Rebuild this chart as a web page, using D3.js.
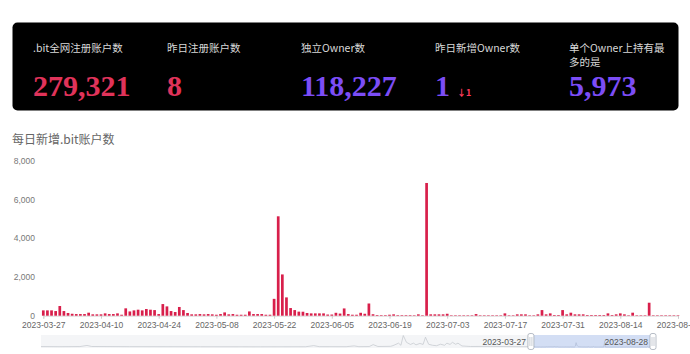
<!DOCTYPE html>
<html lang="zh">

<head>
    <meta charset="UTF-8">
    <script src="https://cdn.jsdelivr.net/npm/d3@7/dist/d3.min.js"></script>
    <style>
        * {
            box-sizing: border-box;
        }

        body {
            margin: 0;
            background: #fff;
        }
    </style>
    <title>.bit</title>
</head>

<body>
    <svg id="svg1" width="690" height="354"></svg>
    <script>
        // header stats
        let statLabels = [[".bit全网注册账户数"], ["昨日注册账户数"], ["独立Owner数"], ["昨日新增Owner数"], ["单个Owner上持有最", "多的是"]];
        let statValues = ["279,321", "8", "118,227", "1", "5,973"];
        let statColors = ["red", "red", "purple", "purple", "purple"];
        let statDelta = [null, null, null, "↓1", null];

        // daily new accounts, one value per day from firstDay
        let firstDay = "2023-03-27";
        let dailyValues = [
            275, 275, 275, 240, 500, 240, 140, 100, 85, 85, 85, 155, 70, 70, 70, 120, 85, 85, 120, 50,
            380, 220, 275, 310, 275, 345, 310, 290, 85, 600, 480, 240, 190, 450, 290, 140, 70, 70, 85, 70,
            85, 70, 50, 85, 170, 70, 85, 50, 50, 50, 220, 85, 85, 85, 50, 50, 870, 5130, 2130, 945,
            395, 290, 210, 205, 140, 120, 120, 120, 120, 60, 60, 150, 110, 375, 85, 50, 50, 150, 100, 630,
            75, 35, 30, 30, 50, 70, 30, 30, 30, 30, 25, 70, 25, 6850, 70, 70, 70, 70, 100, 25,
            25, 25, 25, 25, 25, 85, 25, 25, 25, 25, 25, 25, 120, 25, 25, 70, 70, 70, 25, 25,
            70, 290, 70, 120, 35, 35, 290, 70, 155, 70, 70, 70, 35, 35, 35, 35, 35, 120, 35, 70,
            120, 70, 25, 155, 25, 25, 25, 670, 25, 25, 25, 25, 25, 25, 25
        ];

        // earlier history only seen in the zoom slider
        let historyDates = [
            "2021-07-17", "2021-08-10", "2021-09-04", "2021-09-13", "2021-09-19", "2021-11-06", "2022-02-03",
            "2022-04-20", "2022-06-16", "2022-06-26", "2022-07-03", "2022-08-06", "2022-08-16", "2022-08-22",
            "2022-09-04", "2022-09-09", "2022-09-15", "2022-10-01", "2022-10-04", "2022-10-11", "2022-10-14",
            "2022-10-17", "2022-10-21", "2022-10-26", "2022-10-30", "2022-11-02", "2022-11-07", "2022-11-11",
            "2022-11-14", "2022-11-18", "2022-11-23", "2022-11-28", "2022-12-03", "2022-12-08", "2022-12-11",
            "2022-12-15", "2022-12-18", "2022-12-22", "2022-12-25", "2022-12-30", "2023-01-10", "2023-02-04",
            "2023-03-07", "2023-03-24"
        ];
        let historyValues = [
            500, 350, 500, 1800, 600, 400, 300,
            250, 300, 1600, 400, 350, 1300, 400,
            500, 2800, 600, 800, 1600, 4500, 2000,
            13500, 5500, 3000, 4500, 2500, 4200, 3000,
            11500, 3200, 2000, 1500, 3300, 2000, 4500,
            3000, 5500, 3200, 4500, 1200, 600, 700,
            400, 300
        ];

        let yTicks = [0, 2000, 4000, 6000, 8000];

        let colors = { red: "#e0335a", purple: "#7c4df6", bar: "#d81f4b" };
        let parseDate = d3.timeParse("%Y-%m-%d");
        let fmtDate = d3.timeFormat("%Y-%m-%d");

        let start = parseDate(firstDay);
        let daily = dailyValues.map((v, i) => ({ date: d3.timeDay.offset(start, i), value: v }));
        let end = daily[daily.length - 1].date;
        let history = historyDates.map((d, i) => ({ date: parseDate(d), value: historyValues[i] }));
        let allData = history.concat(daily);

        let svgElement = d3.select("#svg1");
        let cjk = "'Noto Sans CJK SC', 'Noto Sans', sans-serif";

        // ---- header card
        let card = svgElement.append("g");
        card.append("rect")
            .attr("x", 12.5)
            .attr("y", 22.5)
            .attr("width", 666)
            .attr("height", 88)
            .attr("rx", 5)
            .attr("fill", "#000");

        let colX = d3.scaleLinear().domain([0, 1]).range([33, 167]);

        statLabels.forEach((lines, i) => {
            let t = card.append("text")
                .attr("x", colX(i))
                .attr("y", 52)
                .attr("font-family", cjk)
                .attr("font-size", 10.5)
                .attr("fill", "#d8d8d8");
            lines.forEach((l, j) => {
                t.append("tspan").attr("x", colX(i)).attr("dy", j === 0 ? 0 : 14).text(l);
            });

            card.append("text")
                .attr("x", colX(i))
                .attr("y", 96)
                .attr("font-family", "'Liberation Serif', serif")
                .attr("font-weight", "bold")
                .attr("font-size", 30)
                .attr("fill", colors[statColors[i]])
                .text(statValues[i]);

            if (statDelta[i]) {
                card.append("text")
                    .attr("x", colX(i) + 22)
                    .attr("y", 96)
                    .attr("font-family", cjk)
                    .attr("font-size", 9)
                    .attr("font-weight", "bold")
                    .attr("fill", "#ff3b5c")
                    .text(statDelta[i]);
            }
        });

        // ---- chart title
        svgElement.append("text")
            .attr("x", 12)
            .attr("y", 144)
            .attr("font-family", cjk)
            .attr("font-size", 12)
            .attr("fill", "#666")
            .text("每日新增.bit账户数");

        // ---- scales
        let x = d3.scaleTime().domain([start, end]).range([43.3, 678]);
        let y = d3.scaleLinear().domain([0, 8000]).range([315.7, 160.7]);

        let yAxis = svgElement.append("g")
            .attr("transform", "translate(43,0)")
            .call(d3.axisLeft(y).tickValues(yTicks).tickSize(0).tickPadding(8).tickFormat(d3.format(",")));
        yAxis.select(".domain").remove();
        yAxis.selectAll("text")
            .attr("font-family", "'Liberation Sans', Arial, sans-serif")
            .attr("font-size", 8.5)
            .attr("fill", "#777");

        // a tick every two weeks from the first day
        let xTicks = d3.range(0, dailyValues.length, 14).map(i => d3.timeDay.offset(start, i));
        let xAxis = svgElement.append("g")
            .attr("transform", "translate(0,315.7)")
            .call(d3.axisBottom(x).tickValues(xTicks).tickSize(3).tickPadding(3).tickFormat(fmtDate));
        xAxis.select(".domain").attr("stroke", "#d9d9d9");
        xAxis.selectAll("line").attr("stroke", "#ccc");
        xAxis.selectAll("text")
            .attr("font-family", "'Liberation Sans', Arial, sans-serif")
            .attr("font-size", 8.5)
            .attr("fill", "#666");

        // ---- bars
        let barW = 2.7;
        svgElement.append("g")
            .selectAll("rect")
            .data(daily)
            .join("rect")
            .attr("x", d => x(d.date) - barW / 2)
            .attr("y", d => y(d.value))
            .attr("width", barW)
            .attr("height", d => y(0) - y(d.value))
            .attr("fill", colors.bar);

        // ---- zoom slider
        let sx = d3.scaleTime().domain([allData[0].date, end]).range([41, 653]);
        let sy = d3.scaleLinear().domain([0, d3.max(allData, d => d.value)]).range([347, 335.5]);
        let slider = svgElement.append("g");
        slider.append("rect")
            .attr("x", 41)
            .attr("y", 335)
            .attr("width", 612)
            .attr("height", 13)
            .attr("fill", "#f4f5f7");
        slider.append("path")
            .datum(allData)
            .attr("d", d3.line().x(d => sx(d.date)).y(d => sy(d.value)))
            .attr("fill", "none")
            .attr("stroke", "#c2c6cc")
            .attr("stroke-width", 0.7);
        slider.append("rect")
            .attr("x", sx(start))
            .attr("y", 335)
            .attr("width", sx(end) - sx(start))
            .attr("height", 13)
            .attr("fill", "rgba(135,170,240,0.3)");

        [start, end].forEach(d => {
            let hx = sx(d);
            slider.append("rect")
                .attr("x", hx - 3)
                .attr("y", 333.5)
                .attr("width", 6)
                .attr("height", 16)
                .attr("rx", 2)
                .attr("fill", "#fff")
                .attr("stroke", "#a5acb8")
                .attr("stroke-width", 0.8);
            [-1, 1].forEach(o => {
                slider.append("line")
                    .attr("x1", hx + o)
                    .attr("x2", hx + o)
                    .attr("y1", 337)
                    .attr("y2", 346)
                    .attr("stroke", "#a5acb8")
                    .attr("stroke-width", 0.6);
            });
            slider.append("text")
                .attr("x", hx - 5)
                .attr("y", 344.5)
                .attr("text-anchor", "end")
                .attr("font-family", "'Liberation Sans', Arial, sans-serif")
                .attr("font-size", 8.5)
                .attr("fill", "#555")
                .text(fmtDate(d));
        });
    </script>
</body>

</html>
